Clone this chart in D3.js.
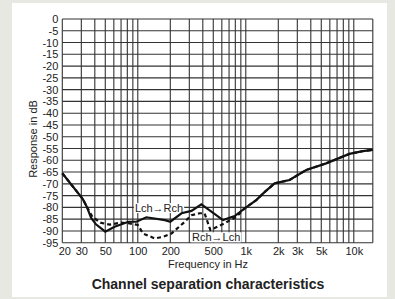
<!DOCTYPE html>
<html>
<head>
<meta charset="utf-8">
<script src="https://cdnjs.cloudflare.com/ajax/libs/d3/7.8.5/d3.min.js"></script>
<style>
    body { margin: 0; background: #e8e8e3; }
    svg { display: block; font-family: "Liberation Sans", Arial, sans-serif; }
</style>
</head>
<body>
<div id="chart"></div>
<script>
// Lch -> Rch (solid)
let lrFreq = [20, 31, 33.5, 37, 41, 50, 61, 82, 97, 120, 178, 200, 254, 314, 388, 615, 790, 977, 1250, 1500, 1850, 2540, 3630, 5550, 9100, 12100, 15000];
let lrDb = [-65.5, -76.5, -79.5, -84.5, -87.2, -90.3, -88.2, -86.1, -86.1, -84.2, -85.4, -86.1, -82.5, -81.5, -78.7, -85.4, -83.7, -80.4, -76.9, -73.4, -69.8, -68.4, -64.1, -61.3, -57.3, -56.1, -55.6];

// Rch -> Lch (dashed)
let rlFreq = [20, 31, 34, 38, 45, 55, 70, 84, 100, 112, 144, 172, 205, 262, 314, 375, 415, 470, 632, 820, 977, 1250, 1500, 1850, 2540, 3630, 5550, 9100, 12100, 15000];
let rlDb = [-65.5, -76.5, -80, -84, -86.5, -87.3, -86.5, -86.8, -87.5, -91.1, -93.2, -92.5, -91.1, -86.8, -83.3, -82.5, -82.5, -89.6, -86.8, -84, -80.4, -76.9, -73.4, -69.8, -68.4, -64.1, -61.3, -57.3, -56.1, -55.6];

let xTicks = [20, 30, 50, 100, 200, 500, 1000, 2000, 3000, 5000, 10000];
let xTickLabels = ['20', '30', '50', '100', '200', '500', '1k', '2k', '3k', '5k', '10k'];
let yTicks = [0, -5, -10, -15, -20, -25, -30, -35, -40, -45, -50, -55, -60, -65, -70, -75, -80, -85, -90, -95];
let gridFreqs = [20, 30, 40, 50, 60, 70, 80, 90, 100, 200, 300, 400, 500, 600, 700, 800, 900,
    1000, 2000, 3000, 4000, 5000, 6000, 7000, 8000, 9000, 10000, 15000];

let labels = [
    {text: 'Lch\u2192Rch', f: 94, db: -82},
    {text: 'Rch\u2192Lch', f: 318, db: -94.4}
];

let width = 395, height = 299;

let svg = d3.select('#chart').append('svg')
    .attr('width', width)
    .attr('height', height);

svg.append('rect')
    .attr('x', 12).attr('y', 3)
    .attr('width', 375).attr('height', 294)
    .style('fill', '#fff');

let x = d3.scaleLog()
    .domain([20, 15000])
    .range([62.3, 372.8]);

let y = d3.scaleLinear()
    .domain([0, -95])
    .range([19, 242.7]);

let g = svg.append('g');

// grid
g.selectAll('.vgrid')
    .data(gridFreqs)
    .enter().append('line')
    .attr('x1', d => x(d)).attr('x2', d => x(d))
    .attr('y1', y(0)).attr('y2', y(-95))
    .style('stroke', '#333')
    .style('stroke-width', 1.1);

g.selectAll('.hgrid')
    .data(yTicks)
    .enter().append('line')
    .attr('x1', x(20)).attr('x2', x(15000))
    .attr('y1', d => y(d)).attr('y2', d => y(d))
    .style('stroke', '#333')
    .style('stroke-width', 1.1);

// axes (labels only)
let yAxis = d3.axisLeft(y)
    .tickValues(yTicks)
    .tickSize(0)
    .tickPadding(4)
    .tickFormat(d => d === 0 ? '0' : '-' + Math.abs(d));

let ya = g.append('g')
    .attr('transform', 'translate(' + x(20) + ',0)')
    .call(yAxis);

let xAxis = d3.axisBottom(x)
    .tickValues(xTicks)
    .tickSize(0)
    .tickPadding(5)
    .tickFormat((d, i) => xTickLabels[i]);

let xa = g.append('g')
    .attr('transform', 'translate(0,' + y(-95) + ')')
    .call(xAxis);

[ya, xa].forEach(a => {
    a.select('.domain').remove();
    a.selectAll('text')
        .style('font-family', '"Liberation Sans", Arial, sans-serif')
        .style('font-size', '11px')
        .style('fill', '#222');
});
xa.selectAll('text').filter(d => d === 20).attr('dx', 2);

// label boxes
let boxLayer = g.append('g'),
    curveLayer = g.append('g'),
    textLayer = g.append('g');

labels.forEach(l => {
    let t = textLayer.append('text')
        .attr('x', x(l.f))
        .attr('y', y(l.db))
        .style('font-size', '11px')
        .style('fill', '#222')
        .text(l.text);
    let bb = t.node().getBBox();
    boxLayer.append('rect')
        .attr('x', bb.x - 1).attr('y', bb.y + 1)
        .attr('width', bb.width + 2).attr('height', bb.height - 2)
        .style('fill', '#fff');
});

// curves
let line = d3.line()
    .x(d => x(d[0]))
    .y(d => y(d[1]));

curveLayer.append('path')
    .datum(rlFreq.map((f, i) => [f, rlDb[i]]))
    .attr('d', line)
    .style('fill', 'none')
    .style('stroke', '#111')
    .style('stroke-width', 2.2)
    .style('stroke-dasharray', '4,3');

curveLayer.append('path')
    .datum(lrFreq.map((f, i) => [f, lrDb[i]]))
    .attr('d', line)
    .style('fill', 'none')
    .style('stroke', '#111')
    .style('stroke-width', 2.2);

// titles
svg.append('text')
    .attr('x', 208)
    .attr('y', 268)
    .attr('text-anchor', 'middle')
    .style('font-size', '11px')
    .style('fill', '#222')
    .text('Frequency in Hz');

svg.append('text')
    .attr('transform', 'translate(36.5,139) rotate(-90)')
    .attr('text-anchor', 'middle')
    .style('font-size', '11px')
    .style('fill', '#222')
    .text('Response in dB');

svg.append('text')
    .attr('x', 208)
    .attr('y', 289)
    .attr('text-anchor', 'middle')
    .style('font-size', '14px')
    .style('font-weight', 'bold')
    .style('fill', '#222')
    .text('Channel separation characteristics');
</script>
</body>
</html>
